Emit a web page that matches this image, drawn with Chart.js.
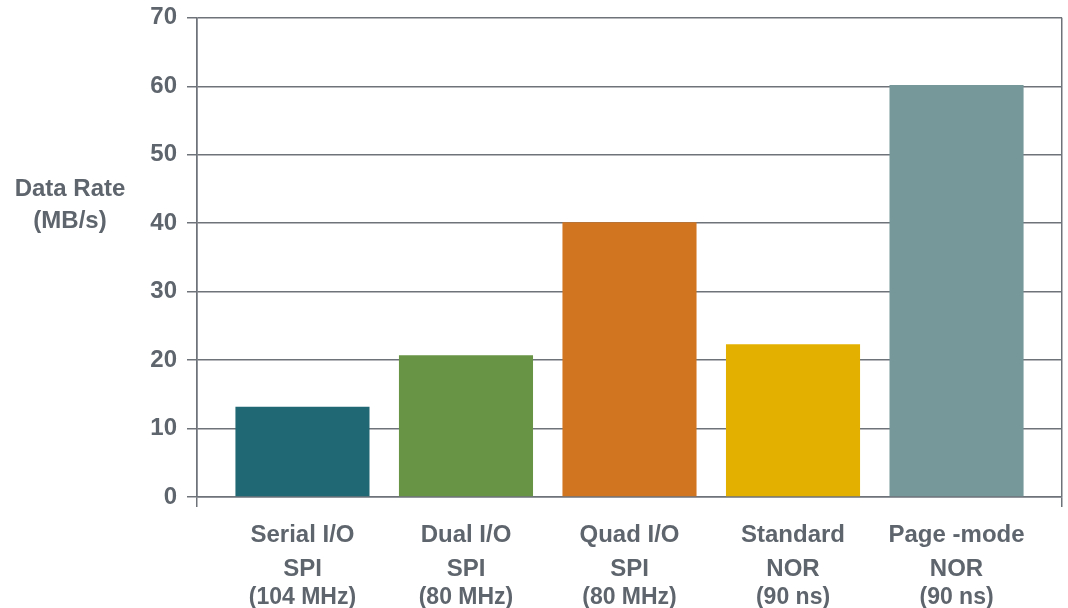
<!DOCTYPE html>
<html>
<head>
<meta charset="utf-8">
<script src="https://cdn.jsdelivr.net/npm/chart.js@4"></script>
<style>
  html, body { margin: 0; padding: 0; background: #ffffff; }
  #wrap { width: 1068px; height: 608px; }
</style>
</head>
<body>
<div id="wrap"><canvas id="c" width="1068" height="608"></canvas></div>
<script>
// ---- data ----
const categoryLines = [
  ["Serial I/O", "SPI"],
  ["Dual I/O", "SPI"],
  ["Quad I/O", "SPI"],
  ["Standard", "NOR"],
  ["Page -mode", "NOR"]
];
const categoryNotes = ["(104 MHz)", "(80 MHz)", "(80 MHz)", "(90 ns)", "(90 ns)"];
const dataRates = [13.2, 20.7, 40.15, 22.3, 60.2];
const barColors = ["#206874", "#679445", "#d27520", "#e4b000", "#76989a"];
const yTicks = [0, 10, 20, 30, 40, 50, 60, 70];
const yTitleLines = ["Data Rate", "(MB/s)"];

const TEXT = "#5f656d";
const LINE = "#6e737a";
const FONT = "'Liberation Sans', Arial, Helvetica, sans-serif";
const xMin = -0.645, xMax = 4.645;

const points = dataRates.map((v, i) => ({ x: i, y: v }));

const titlePlugin = {
  id: 'ytitle',
  afterDraw(chart) {
    const ctx = chart.ctx, a = chart.chartArea;
    ctx.save();
    ctx.fillStyle = TEXT;
    ctx.font = "bold 24px " + FONT;
    ctx.textAlign = 'center';
    ctx.textBaseline = 'middle';
    const cx = a.left - 127, cy = (a.top + a.bottom) / 2;
    ctx.fillText(yTitleLines[0], cx, cy - 68);
    ctx.fillText(yTitleLines[1], cx, cy - 36);
    ctx.restore();
  }
};

new Chart(document.getElementById('c'), {
  type: 'bar',
  data: {
    datasets: [{
      xAxisID: 'xn',
      data: points,
      backgroundColor: barColors,
      borderWidth: 0,
      categoryPercentage: 0.82,
      barPercentage: 1.0
    }]
  },
  options: {
    responsive: false,
    animation: false,
    devicePixelRatio: 1,
    layout: { padding: { left: 0, right: 6, top: 0, bottom: 0 } },
    plugins: { legend: { display: false }, tooltip: { enabled: false } },
    scales: {
      x: {
        type: 'linear',
        position: 'bottom',
        weight: 1,
        offset: false,
        min: xMin, max: xMax,
        afterBuildTicks: axis => {
          axis.ticks = [{ value: xMin }].concat(categoryLines.map((_, i) => ({ value: i })), [{ value: xMax }]);
        },
        afterFit: s => { s.height = 89; s.paddingLeft = 0; s.paddingRight = 0; },
        grid: {
          display: true,
          offset: false,
          drawOnChartArea: true,
          tickLength: 10,
          lineWidth: 1.5,
          color: ctx => (ctx.tick && (ctx.tick.value === xMin || ctx.tick.value === xMax)) ? LINE : 'rgba(0,0,0,0)'
        },
        border: { display: true, color: LINE, width: 1.5 },
        ticks: {
          autoSkip: false,
          maxRotation: 0,
          padding: 11,
          color: TEXT,
          font: { family: FONT, size: 24, weight: 'bold', lineHeight: 34 / 24 },
          callback: v => Number.isInteger(v) && categoryLines[v] ? categoryLines[v] : ''
        }
      },
      xn: {
        type: 'linear',
        position: 'bottom',
        weight: 2,
        offset: false,
        min: xMin, max: xMax,
        afterBuildTicks: axis => { axis.ticks = categoryNotes.map((_, i) => ({ value: i })); },
        afterFit: s => { s.height = 22; s.paddingLeft = 0; s.paddingRight = 0; },
        grid: { display: false, drawTicks: false, tickLength: 0, offset: false },
        border: { display: false },
        ticks: {
          autoSkip: false,
          maxRotation: 0,
          padding: 0,
          color: TEXT,
          font: { family: FONT, size: 23, weight: 'bold', lineHeight: 1.0 },
          callback: v => Number.isInteger(v) && categoryNotes[v] ? categoryNotes[v] : ''
        }
      },
      y: {
        min: 0, max: 70,
        afterBuildTicks: axis => { axis.ticks = yTicks.map(v => ({ value: v })); },
        afterFit: s => { s.width = 197; },
        grid: { color: LINE, lineWidth: 1.5, tickLength: 10 },
        border: { display: true, color: LINE, width: 1.5 },
        ticks: {
          padding: 10,
          color: TEXT,
          font: { family: FONT, size: 24, weight: 'bold', lineHeight: 0.65 }
        }
      }
    }
  },
  plugins: [titlePlugin]
});
</script>
</body>
</html>
